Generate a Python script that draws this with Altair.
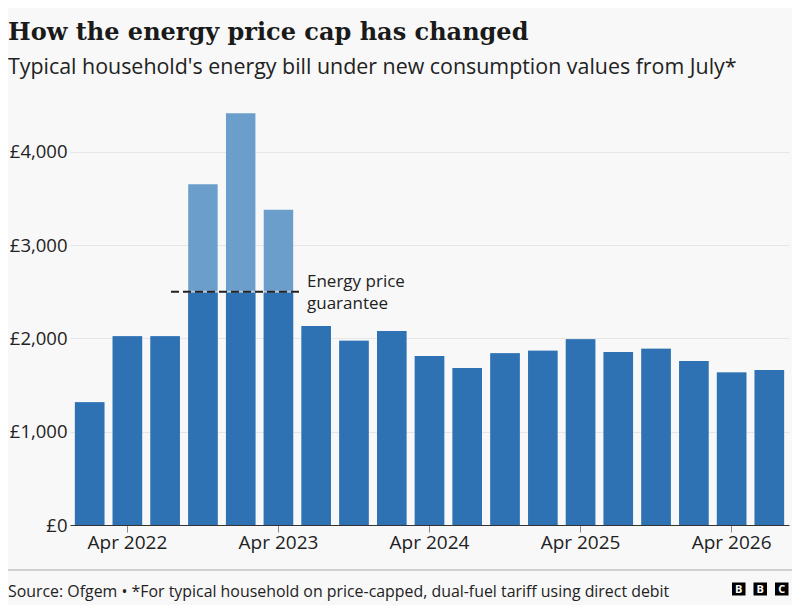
import altair as alt
import pandas as pd

# ---- data ----
periods = ["Jan 2022", "Apr 2022", "Jul 2022", "Oct 2022", "Jan 2023", "Apr 2023",
           "Jul 2023", "Oct 2023", "Jan 2024", "Apr 2024", "Jul 2024", "Oct 2024",
           "Jan 2025", "Apr 2025", "Jul 2025", "Oct 2025", "Jan 2026", "Apr 2026",
           "Jul 2026"]
bill = [1314, 2021, 2021, 3651, 4412, 3378, 2132, 1974, 2078, 1810, 1682, 1839,
        1867, 1989, 1853, 1889, 1757, 1635, 1660]
guarantee = 2500
x_tick_labels = ["Apr 2022", "Apr 2023", "Apr 2024", "Apr 2025", "Apr 2026"]
y_ticks = [0, 1000, 2000, 3000, 4000]

title_text = "How the energy price cap has changed"
subtitle_text = "Typical household's energy bill under new consumption values from July*"
source_text = "Source: Ofgem \u2022 *For typical household on price-capped, dual-fuel tariff using direct debit"
annotation_lines = ["Energy price", "guarantee"]

df = pd.DataFrame({"period": periods, "bill": bill})

DARK = "#2e72b4"
LIGHT = "#6b9ecb"
SANS = "Open Sans"
SERIF = "DejaVu Serif"

x_enc = alt.X("period:N", sort=periods,
              scale=alt.Scale(paddingInner=0.22, paddingOuter=0.13),
              axis=alt.Axis(values=x_tick_labels, labelAngle=0, title=None,
                            labelFontSize=19, labelFont=SANS, labelColor="#222222",
                            tickSize=7, tickColor="#888888", domainColor="#333333",
                            labelPadding=1, grid=False))
y_scale = alt.Scale(domain=[0, 4500], nice=False)
y_axis = alt.Axis(values=y_ticks, title=None, labelExpr="'£' + format(datum.value, ',')",
                  labelFontSize=18.5, labelFont=SANS, labelColor="#222222",
                  domain=False, ticks=False, labelPadding=3,
                  grid=True, gridColor="#e6e6e6")

base = alt.Chart(df)

light_bars = base.mark_bar(color=LIGHT).encode(
    x=x_enc,
    y=alt.Y("bill:Q", scale=y_scale, axis=y_axis),
)

dark_bars = base.transform_calculate(
    capped=f"min(datum.bill, {guarantee})"
).mark_bar(color=DARK).encode(
    x=alt.X("period:N", sort=periods),
    y=alt.Y("capped:Q"),
)

guide_df = pd.DataFrame({"level": [guarantee]})
rule_under = alt.Chart(guide_df).mark_rule(color="#ffffff", opacity=0.55, strokeWidth=2).encode(
    y="level:Q", x=alt.value(101), x2=alt.value(231))
rule_dash = alt.Chart(guide_df).mark_rule(color="#222222", strokeWidth=2, strokeDash=[8, 4]).encode(
    y="level:Q", x=alt.value(101), x2=alt.value(231))

annot = alt.Chart().mark_text(text=annotation_lines, align="left", baseline="alphabetic",
                              lineHeight=22, font=SANS, fontSize=17, color="#222222").encode(
    x=alt.value(237), y=alt.value(181.5))

title = alt.Chart().mark_text(text=title_text, align="left", baseline="alphabetic",
                              font=SERIF, fontWeight="bold", fontSize=24, color="#1a1a1a").encode(
    x=alt.value(-62), y=alt.value(-65))
subtitle = alt.Chart().mark_text(text=subtitle_text, align="left", baseline="alphabetic",
                                 font=SANS, fontSize=21.4, color="#222222").encode(
    x=alt.value(-62), y=alt.value(-31))

footer_line = alt.Chart().mark_rule(color="#aaaaaa", strokeWidth=1).encode(
    x=alt.value(-62), x2=alt.value(722), y=alt.value(465))
source = alt.Chart().mark_text(text=source_text, align="left", baseline="alphabetic",
                               font=SANS, fontSize=15.9, color="#222222").encode(
    x=alt.value(-62), y=alt.value(492))

logo_letters = ["B", "B", "C"]
logo_x = [662, 683.5, 705]
logo_layers = []
for letter, lx in zip(logo_letters, logo_x):
    logo_layers.append(alt.Chart().mark_rect(color="#000000").encode(
        x=alt.value(lx), x2=alt.value(lx + 13.5), y=alt.value(477.5), y2=alt.value(490.5)))
    logo_layers.append(alt.Chart().mark_text(text=letter, align="center", baseline="middle",
                                             font=SANS, fontWeight="bold", fontSize=11,
                                             color="#ffffff").encode(
        x=alt.value(lx + 6.75), y=alt.value(484.5)))

chart = alt.layer(
    light_bars, dark_bars, rule_under, rule_dash, annot,
    title, subtitle, footer_line, source, *logo_layers
).properties(
    width=719, height=420,
    autosize=alt.AutoSizeParams(type="none"),
    padding={"left": 62, "top": 97, "right": 3, "bottom": 80},
    background="#f8f8f8",
).configure_view(stroke=None)

chart.save("out.html", embed_options={"renderer": "svg", "actions": False})
